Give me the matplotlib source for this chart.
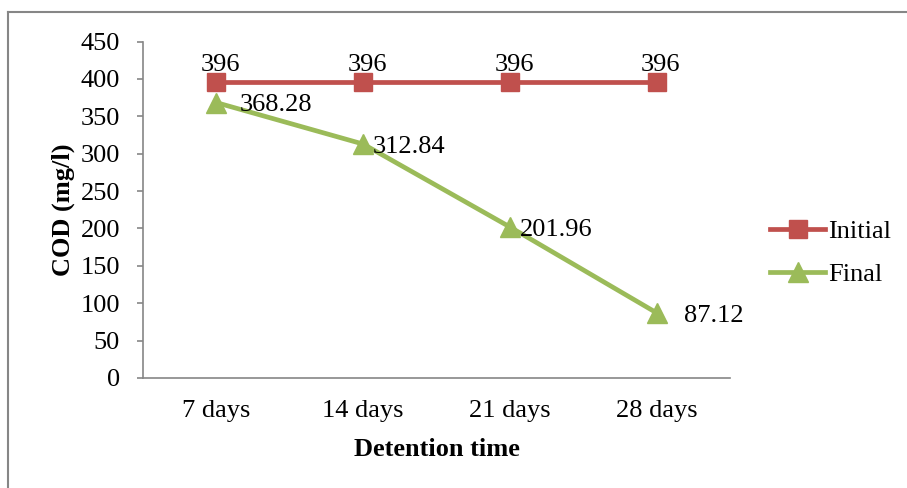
import matplotlib.pyplot as plt
from matplotlib.lines import Line2D

plt.rcParams['font.family'] = ['Liberation Serif', 'DejaVu Serif']

days = ["7 days", "14 days", "21 days", "28 days"]
initial = [396, 396, 396, 396]
final = [368.28, 312.84, 201.96, 87.12]

red = "#C0504D"
green = "#9BBB59"
grey = "#868686"
fs = 19

fig = plt.figure(figsize=(9.07, 4.88), dpi=100)
ax = fig.add_axes([143 / 907, 1 - 378 / 488, 587 / 907, (378 - 41.5) / 488])

x = range(len(days))
ax.plot(x, initial, color=red, lw=3.4, marker="s", ms=13, label="Initial")
ax.plot(x, final, color=green, lw=3.4, marker="^", ms=14, label="Final")

for i, v in enumerate(initial):
    ax.annotate(f"{v:g}", (i, v), xytext=(3, 4), textcoords="offset points",
                ha="center", va="bottom", fontsize=fs)
# data labels to the right of the green points
dx = [17, 7, 7, 20]
for i, v in enumerate(final):
    ax.annotate(f"{v:.2f}", (i, v), xytext=(dx[i], -2), textcoords="offset points",
                ha="left", va="center", fontsize=fs)

ax.set_xlim(-0.5, 3.5)
ax.set_ylim(0, 450)
ax.set_yticks(range(0, 451, 50))
ax.set_xticks(list(x))
ax.set_xticklabels(days)
ax.tick_params(axis="y", length=4.5, width=1.2, color=grey, pad=12, labelsize=fs)
ax.tick_params(axis="x", length=0, pad=16, labelsize=fs)
for s in ["top", "right"]:
    ax.spines[s].set_visible(False)
for s in ["left", "bottom"]:
    ax.spines[s].set_color(grey)
    ax.spines[s].set_linewidth(1.2)

ax.set_xlabel("Detention time", fontsize=fs, fontweight="bold", labelpad=11)
ax.set_ylabel("COD (mg/l)", fontsize=fs, fontweight="bold", labelpad=4)

ax.legend(loc="center left", bbox_to_anchor=(770 / 907, 1 - 253 / 488),
          bbox_transform=fig.transFigure, frameon=False, fontsize=fs,
          handlelength=2.1, handletextpad=0.1, labelspacing=0.75, borderpad=0,
          borderaxespad=0)

# outer chart border (only left and top visible in the crop)
fig.add_artist(Line2D([8 / 907, 8 / 907], [0, 1 - 12 / 488], color=grey, lw=1.5,
                      transform=fig.transFigure))
fig.add_artist(Line2D([8 / 907, 1], [1 - 12 / 488, 1 - 12 / 488], color=grey, lw=1.5,
                      transform=fig.transFigure))

fig.savefig("out.png", dpi=100)
